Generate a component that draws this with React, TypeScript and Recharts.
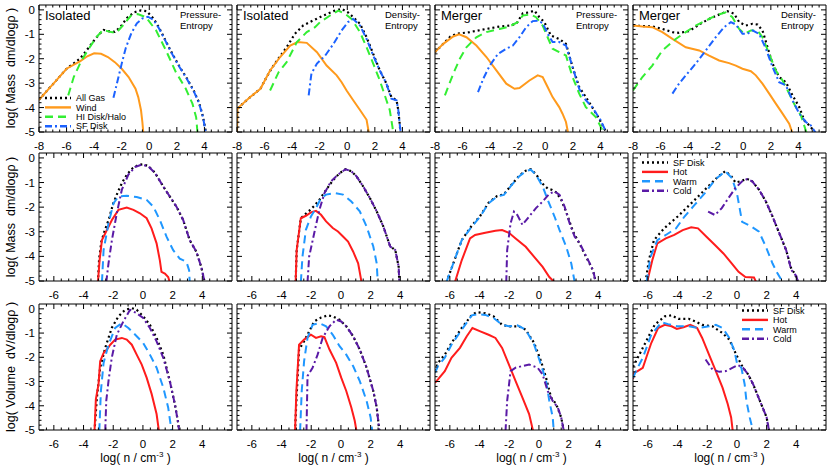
import React from 'react';
import { LineChart, Line, XAxis, YAxis } from 'recharts';

type Pt = [number, number];

// ---------- tick labels ----------
const xLabelsTop = [-8, -6, -4, -2, 0, 2, 4];
const xLabelsLow = [-6, -4, -2, 0, 2, 4];
const yLabels = [0, -1, -2, -3, -4, -5];
const colNames = ['Isolated', 'Isolated', 'Merger', 'Merger'];
const colModels = [['Pressure-', 'Entropy'], ['Density-', 'Entropy'], ['Pressure-', 'Entropy'], ['Density-', 'Entropy']];
const legendTop = ['All Gas', 'Wind', 'HI Disk/Halo', 'SF Disk'];
const legendPhase = ['SF Disk', 'Hot', 'Warm', 'Cold'];

// ---------- Row 1: all gas / wind / HI / SF disk ----------
const isoPE_all: Pt[] = [[-8,-3.68],[-7,-3.05],[-6,-2.41],[-5.5,-2.2],[-5,-1.98],[-4.5,-1.62],[-4,-1.25],[-3.6,-0.98],[-3.3,-0.82],[-2.9,-0.88],[-2.5,-0.9],[-2.1,-0.7],[-1.6,-0.32],[-1.1,-0.1],[-0.6,-0.02],[-0.2,-0.05],[0.3,-0.35],[0.7,-0.72],[1.2,-1.28],[1.7,-1.83],[2.2,-2.33],[2.7,-2.78],[3.2,-3.28],[3.6,-3.78],[3.9,-4.38],[4.12,-5.05]];
const isoPE_wind: Pt[] = [[-8,-3.68],[-7,-3.05],[-6,-2.41],[-5.5,-2.25],[-5,-2.1],[-4.5,-1.9],[-4,-1.78],[-3.5,-1.8],[-3,-1.93],[-2.5,-2.14],[-2,-2.41],[-1.5,-2.75],[-1,-3.23],[-0.8,-3.57],[-0.6,-4.11],[-0.5,-4.6],[-0.43,-5.05]];
const isoPE_hi: Pt[] = [[-5.88,-3.5],[-5.48,-2.75],[-4.92,-2.07],[-4.32,-1.53],[-3.84,-1.12],[-3.36,-0.82],[-2.76,-0.91],[-2.4,-0.94],[-1.92,-0.64],[-1.32,-0.23],[-0.84,-0.17],[-0.24,-0.3],[0.49,-0.84],[1.21,-1.66],[1.93,-2.55],[2.65,-3.23],[3.13,-3.84],[3.4,-4.4],[3.5,-5.05]];
const isoPE_sf: Pt[] = [[-2.6,-3.6],[-2.3,-2.9],[-2.0,-2.2],[-1.7,-1.55],[-1.3,-0.95],[-0.9,-0.55],[-0.5,-0.35],[-0.1,-0.28],[0.3,-0.4],[0.7,-0.75],[1.2,-1.3],[1.7,-1.85],[2.2,-2.35],[2.7,-2.8],[3.2,-3.3],[3.6,-3.8],[3.9,-4.4],[4.1,-5.05]];

const isoDE_all: Pt[] = [[-8,-5.05],[-7.97,-4.05],[-7.8,-3.95],[-7.04,-3.57],[-6.3,-3.23],[-5.9,-2.8],[-5.5,-2.4],[-5,-2.0],[-4.4,-1.53],[-3.8,-0.98],[-3.2,-0.64],[-2.5,-0.44],[-1.73,-0.23],[-1.0,-0.05],[-0.41,0.04],[0.05,-0.1],[0.43,-0.3],[0.92,-0.57],[1.4,-1.12],[1.88,-1.8],[2.36,-2.48],[2.84,-3.02],[3.2,-3.57],[3.57,-3.7],[3.7,-4.1],[3.8,-4.66],[3.86,-5.05]];
const isoDE_wind: Pt[] = [[-8,-5.05],[-7.97,-4.05],[-7.8,-3.95],[-7.04,-3.57],[-6.3,-3.23],[-5.6,-2.48],[-4.87,-1.93],[-4.14,-1.46],[-3.6,-1.32],[-2.94,-1.35],[-2.2,-1.73],[-1.5,-2.28],[-0.77,-2.68],[-0.41,-2.96],[-0.05,-3.3],[0.43,-3.7],[0.92,-4.1],[1.4,-4.5],[1.57,-5.05]];
const isoDE_hi: Pt[] = [[-5.6,-3.3],[-4.98,-2.55],[-4.4,-2.14],[-3.66,-1.32],[-2.94,-0.91],[-2.34,-0.71],[-1.97,-0.5],[-1.25,-0.23],[-0.65,-0.03],[-0.17,-0.16],[0.31,-0.37],[0.92,-0.91],[1.4,-1.53],[1.88,-2.2],[2.36,-2.89],[2.84,-3.7],[3.08,-4.1],[3.28,-4.8],[3.33,-5.05]];
const isoDE_sf: Pt[] = [[-2.8,-3.5],[-2.6,-2.6],[-2.2,-2.2],[-1.6,-1.87],[-1.0,-1.39],[-0.41,-0.84],[0.05,-0.5],[0.43,-0.37],[0.92,-0.64],[1.4,-1.19],[1.88,-1.87],[2.36,-2.48],[2.84,-3.02],[3.2,-3.64],[3.57,-3.7],[3.7,-4.1],[3.8,-4.66],[3.88,-5.05]];

const merPE_all: Pt[] = [[-8,-1.73],[-7.4,-1.39],[-6.9,-1.1],[-6.44,-0.98],[-5.48,-0.91],[-4.27,-0.78],[-3.31,-0.68],[-2.6,-0.64],[-2.1,-0.57],[-1.63,-0.14],[-1.15,-0.1],[-0.79,-0.03],[-0.43,-0.3],[-0.07,-0.5],[0.41,-1.05],[1.01,-1.19],[1.5,-1.39],[1.98,-2.34],[2.46,-3.16],[2.94,-3.57],[3.4,-3.98],[3.9,-4.45],[4.45,-5.05]];
const merPE_wind: Pt[] = [[-8,-1.73],[-7.4,-1.39],[-6.68,-1.09],[-6.25,-1.0],[-5.72,-1.12],[-5,-1.46],[-4.27,-1.93],[-3.55,-2.48],[-2.83,-3.02],[-2.23,-3.23],[-1.87,-3.2],[-1.15,-2.89],[-0.55,-2.68],[-0.19,-2.75],[0.17,-3.16],[0.53,-3.57],[1.01,-3.98],[1.25,-4.25],[1.5,-4.59],[1.66,-5.05]];
const merPE_hi: Pt[] = [[-7.28,-3.5],[-6.68,-2.62],[-6.2,-2.0],[-5.72,-1.53],[-5,-1.12],[-4.27,-0.91],[-3.31,-0.78],[-2.6,-0.68],[-2,-0.5],[-1.63,-0.23],[-1.03,-0.19],[-0.67,-0.3],[-0.19,-0.64],[0.17,-1.12],[0.53,-1.59],[1.01,-1.73],[1.5,-1.87],[1.98,-2.75],[2.46,-3.43],[2.94,-3.98],[3.66,-4.39],[4.26,-5.05]];
const merPE_sf: Pt[] = [[-4.88,-3.37],[-4.5,-2.82],[-4.03,-2.28],[-3.43,-1.8],[-2.83,-1.59],[-2.35,-1.46],[-1.87,-1.12],[-1.39,-0.71],[-0.91,-0.46],[-0.55,-0.44],[-0.19,-0.54],[0.17,-0.98],[0.53,-1.32],[1.01,-1.32],[1.5,-1.46],[1.98,-2.34],[2.46,-3.23],[2.94,-3.7],[3.4,-3.98],[4.02,-4.52],[4.45,-5.05]];

const merDE_all: Pt[] = [[-8,-0.64],[-7.32,-0.66],[-6.6,-0.68],[-5.87,-0.78],[-5.14,-0.91],[-4.66,-0.94],[-3.93,-0.87],[-3.2,-0.6],[-2.48,-0.37],[-1.75,-0.19],[-1.15,-0.05],[-0.66,-0.16],[-0.3,-0.5],[0.19,-0.64],[0.67,-0.57],[1.03,-0.6],[1.39,-0.84],[1.76,-1.53],[2.12,-2.2],[2.6,-2.75],[3.09,-2.96],[3.57,-3.5],[4.06,-3.98],[4.42,-4.52],[4.9,-4.8],[5.2,-5.05]];
const merDE_wind: Pt[] = [[-8,-0.64],[-7.32,-0.68],[-6.6,-0.71],[-5.87,-0.91],[-5.14,-1.19],[-4.17,-1.53],[-3.2,-1.66],[-2.48,-1.87],[-1.75,-2.07],[-1.03,-2.18],[-0.54,-2.28],[-0.06,-2.41],[0.55,-2.51],[0.91,-2.68],[1.39,-3.02],[1.88,-3.43],[2.36,-3.84],[2.85,-4.25],[3.33,-4.66],[3.57,-5.05]];
const merDE_hi: Pt[] = [[-8,-3.3],[-7.32,-2.75],[-6.6,-2.28],[-5.87,-1.66],[-4.9,-1.19],[-4.17,-0.91],[-3.45,-0.64],[-2.72,-0.44],[-2,-0.23],[-1.27,-0.1],[-0.79,-0.3],[-0.3,-0.78],[0.07,-0.98],[0.55,-0.84],[1.03,-0.84],[1.39,-1.12],[1.88,-1.8],[2.36,-2.48],[2.85,-2.89],[3.33,-3.43],[3.81,-3.98],[4.18,-4.32],[4.6,-5.05]];
const merDE_sf: Pt[] = [[-5.14,-3.43],[-4.66,-3.02],[-4.17,-2.68],[-3.45,-2.2],[-2.72,-1.66],[-2,-1.12],[-1.39,-0.71],[-0.9,-0.5],[-0.54,-0.6],[-0.06,-0.98],[0.3,-0.98],[0.67,-0.84],[1.15,-0.98],[1.64,-1.59],[2.12,-2.34],[2.6,-2.96],[3.09,-3.09],[3.57,-3.7],[4.06,-4.25],[4.54,-4.59],[4.9,-4.73],[5.27,-5.05]];

// ---------- Row 2: SF disk mass by phase ----------
const massIsoPE_sf: Pt[] = [[-3.03,-5.05],[-2.95,-4.1],[-2.8,-3.4],[-2.6,-3.0],[-2.3,-2.5],[-2.0,-1.85],[-1.7,-1.4],[-1.4,-1.0],[-1.05,-0.65],[-0.7,-0.42],[-0.3,-0.28],[0.0,-0.26],[0.36,-0.33],[0.81,-0.6],[1.37,-1.16],[1.81,-1.57],[2.26,-1.98],[2.71,-2.52],[3.15,-3.34],[3.6,-3.81],[3.93,-4.43],[4.16,-5.05]];
const massIsoPE_hot: Pt[] = [[-3.03,-5.05],[-2.92,-4.16],[-2.76,-3.34],[-2.43,-2.93],[-2.09,-2.52],[-1.65,-2.11],[-1.09,-2.02],[-0.64,-2.11],[-0.2,-2.25],[0.25,-2.45],[0.58,-2.86],[0.92,-3.47],[1.14,-4.16],[1.25,-4.63],[1.48,-4.7],[1.7,-4.84],[1.81,-5.05]];
const massIsoPE_warm: Pt[] = [[-2.76,-5.05],[-2.65,-3.75],[-2.32,-2.66],[-1.98,-1.84],[-1.65,-1.57],[-1.09,-1.54],[-0.42,-1.59],[0.25,-1.7],[0.7,-1.98],[1.14,-2.52],[1.59,-3.2],[2.04,-3.75],[2.48,-4.09],[2.93,-4.22],[3.11,-4.56],[3.15,-5.05]];
const massIsoPE_cold: Pt[] = [[-2.47,-5.05],[-2.32,-4.29],[-2.09,-3.34],[-1.76,-2.25],[-1.42,-1.29],[-0.98,-0.68],[-0.53,-0.37],[-0.08,-0.27],[0.36,-0.34],[0.81,-0.61],[1.37,-1.16],[1.81,-1.57],[2.26,-1.98],[2.71,-2.52],[3.15,-3.34],[3.6,-3.81],[3.93,-4.43],[4.16,-5.05]];

const massIsoDE_sf: Pt[] = [[-3.05,-5.05],[-2.98,-3.74],[-2.7,-2.45],[-2.48,-2.33],[-2.14,-2.15],[-1.8,-1.95],[-1.45,-1.7],[-1.0,-1.3],[-0.55,-0.92],[-0.09,-0.62],[0.3,-0.46],[0.7,-0.54],[1.05,-0.75],[1.5,-1.16],[1.95,-1.63],[2.41,-2.17],[2.86,-2.79],[3.32,-3.6],[3.66,-3.74],[3.89,-4.42],[3.93,-5.05]];
const massIsoDE_hot: Pt[] = [[-3.05,-5.05],[-2.98,-3.74],[-2.7,-2.45],[-2.36,-2.35],[-2.02,-2.21],[-1.68,-2.15],[-1.34,-2.31],[-1.0,-2.58],[-0.55,-2.85],[-0.2,-2.99],[0.14,-3.19],[0.48,-3.4],[0.82,-3.8],[1.16,-4.28],[1.39,-5.05]];
const massIsoDE_warm: Pt[] = [[-2.7,-5.05],[-2.59,-4.01],[-2.36,-2.92],[-2.02,-2.38],[-1.68,-2.04],[-1.34,-1.63],[-1.0,-1.49],[-0.43,-1.43],[0.14,-1.49],[0.7,-1.77],[1.27,-2.17],[1.73,-2.79],[2.18,-3.6],[2.41,-4.28],[2.48,-5.05]];
const massIsoDE_cold: Pt[] = [[-2.25,-5.05],[-2.14,-4.01],[-1.8,-3.06],[-1.45,-2.11],[-1.11,-1.43],[-0.66,-0.95],[-0.2,-0.68],[0.3,-0.46],[0.7,-0.54],[1.05,-0.75],[1.5,-1.16],[1.95,-1.63],[2.41,-2.17],[2.86,-2.79],[3.32,-3.6],[3.66,-3.74],[3.89,-4.42],[3.93,-5.05]];

const massMerPE_sf: Pt[] = [[-6.23,-5.05],[-5.77,-4.29],[-5.2,-3.34],[-4.52,-2.75],[-3.95,-2.35],[-3.39,-1.82],[-2.82,-1.55],[-2.36,-1.48],[-1.91,-1.14],[-1.34,-0.73],[-0.89,-0.52],[-0.55,-0.46],[-0.2,-0.66],[0.25,-1.05],[0.6,-1.25],[0.9,-1.3],[1.16,-1.4],[1.5,-1.7],[1.84,-2.2],[2.3,-3.0],[2.75,-3.5],[3.2,-4.05],[3.55,-4.45],[3.7,-4.7],[3.82,-5.05]];
const massMerPE_hot: Pt[] = [[-5.66,-5.05],[-5.2,-4.16],[-4.64,-3.27],[-4.3,-3.13],[-3.61,-3.04],[-2.93,-2.96],[-2.48,-2.93],[-2.02,-3.04],[-1.57,-3.27],[-0.89,-3.61],[-0.32,-4.02],[0.25,-4.43],[0.7,-4.84],[1.05,-5.05]];
const massMerPE_warm: Pt[] = [[-6.23,-5.05],[-5.77,-4.29],[-5.2,-3.34],[-4.52,-2.79],[-3.95,-2.38],[-3.39,-1.84],[-2.82,-1.57],[-2.36,-1.5],[-1.91,-1.16],[-1.34,-0.75],[-0.89,-0.54],[-0.55,-0.48],[-0.2,-0.68],[0.25,-1.16],[0.59,-1.7],[1.05,-2.38],[1.39,-2.93],[1.84,-3.61],[2.18,-4.29],[2.41,-5.05]];
const massMerPE_cold: Pt[] = [[-2.2,-5.05],[-2.14,-3.75],[-1.91,-2.66],[-1.68,-2.18],[-1.45,-2.32],[-1.11,-2.72],[-0.66,-2.38],[-0.2,-2.04],[0.25,-1.77],[0.7,-1.46],[1.05,-1.36],[1.39,-1.5],[1.73,-1.98],[2.07,-2.66],[2.41,-3.2],[2.75,-3.47],[3.2,-4.02],[3.55,-4.43],[3.7,-4.7],[3.82,-5.05]];

const massMerDE_sf: Pt[] = [[-6.16,-5.05],[-5.93,-4.16],[-5.59,-3.34],[-4.9,-2.86],[-3.99,-2.38],[-3.31,-1.98],[-2.62,-1.57],[-1.94,-1.16],[-1.25,-0.75],[-0.79,-0.54],[-0.4,-0.72],[-0.1,-1.0],[0.23,-0.95],[0.68,-0.85],[1.03,-0.95],[1.49,-1.29],[1.95,-1.77],[2.4,-2.38],[2.86,-3.07],[3.32,-3.75],[3.66,-4.5],[3.9,-4.7],[4.12,-5.05]];
const massMerDE_hot: Pt[] = [[-6.05,-5.05],[-5.7,-4.16],[-5.36,-3.47],[-4.79,-3.27],[-4.22,-3.13],[-3.65,-2.93],[-3.08,-2.82],[-2.62,-2.86],[-2.05,-3.2],[-1.48,-3.54],[-0.91,-3.88],[-0.34,-4.29],[0.11,-4.63],[0.57,-4.84],[1.15,-4.86],[1.3,-5.05]];
const massMerDE_warm: Pt[] = [[-6.09,-5.05],[-5.82,-4.02],[-5.36,-3.34],[-4.79,-3.13],[-4.1,-2.86],[-3.53,-2.38],[-2.85,-1.91],[-2.16,-1.43],[-1.48,-0.89],[-0.79,-0.54],[-0.34,-0.82],[0.0,-1.43],[0.2,-2.1],[0.35,-2.6],[0.92,-2.77],[1.49,-3.0],[1.95,-3.61],[2.4,-4.29],[2.74,-4.7],[3.09,-5.05]];
const massMerDE_cold: Pt[] = [[-1.94,-2.18],[-1.48,-2.32],[-1.02,-2.04],[-0.57,-1.63],[-0.11,-1.23],[0.35,-0.95],[0.68,-0.86],[1.03,-0.95],[1.49,-1.29],[1.95,-1.77],[2.4,-2.38],[2.86,-3.07],[3.32,-3.75],[3.66,-4.55],[4.0,-4.8],[4.12,-5.05]];

// ---------- Row 3: SF disk volume by phase ----------
const volIsoPE_sf: Pt[] = [[-3.26,-5.05],[-3.1,-3.66],[-2.88,-2.43],[-2.54,-1.61],[-2.1,-0.79],[-1.65,-0.31],[-1.2,-0.04],[-0.75,0.03],[-0.42,-0.04],[0.02,-0.31],[0.47,-0.66],[0.92,-1.2],[1.37,-1.89],[1.81,-2.98],[2.15,-3.93],[2.37,-4.69],[2.44,-5.05]];
const volIsoPE_hot: Pt[] = [[-3.26,-5.05],[-3.17,-3.73],[-2.99,-3.11],[-2.88,-2.16],[-2.65,-1.82],[-2.43,-1.68],[-2.2,-1.48],[-1.87,-1.27],[-1.42,-1.2],[-1.09,-1.27],[-0.75,-1.48],[-0.42,-1.89],[-0.08,-2.3],[0.25,-2.84],[0.59,-3.52],[0.92,-4.34],[1.08,-5.05]];
const volIsoPE_warm: Pt[] = [[-2.94,-5.05],[-2.83,-3.39],[-2.65,-2.23],[-2.32,-1.48],[-1.87,-0.79],[-1.42,-0.59],[-0.98,-0.79],[-0.42,-1.13],[0.02,-1.41],[0.47,-1.89],[0.92,-2.43],[1.37,-3.25],[1.7,-4.07],[1.93,-5.05]];
const volIsoPE_cold: Pt[] = [[-2.54,-5.05],[-2.47,-3.8],[-2.32,-2.98],[-2.1,-2.02],[-1.76,-1.07],[-1.32,-0.52],[-0.87,-0.04],[-0.42,-0.18],[0.02,-0.38],[0.47,-0.79],[0.92,-1.34],[1.37,-2.02],[1.81,-2.98],[2.15,-3.93],[2.37,-4.69],[2.44,-5.05]];

const volIsoDE_sf: Pt[] = [[-3.09,-5.05],[-3.0,-3.8],[-2.82,-1.68],[-2.48,-1.34],[-2.14,-0.93],[-1.8,-0.52],[-1.34,-0.36],[-0.89,-0.27],[-0.55,-0.31],[-0.09,-0.45],[0.36,-0.72],[0.82,-1.13],[1.27,-1.68],[1.73,-2.43],[2.18,-3.39],[2.41,-4.07],[2.59,-5.05]];
const volIsoDE_hot: Pt[] = [[-3.09,-5.05],[-3.0,-3.39],[-2.82,-1.48],[-2.48,-1.27],[-2.02,-1.07],[-1.68,-1.2],[-1.34,-1.13],[-1.11,-1.17],[-0.77,-1.68],[-0.32,-2.23],[0.02,-2.84],[0.36,-3.39],[0.7,-4.07],[0.93,-4.62],[1.05,-5.05]];
const volIsoDE_warm: Pt[] = [[-2.75,-5.05],[-2.64,-3.39],[-2.48,-2.16],[-2.25,-1.2],[-1.91,-0.66],[-1.45,-0.59],[-1.0,-0.72],[-0.55,-1.07],[-0.09,-1.54],[0.36,-1.89],[0.82,-2.36],[1.27,-2.98],[1.73,-3.8],[2.0,-4.48],[2.11,-5.05]];
const volIsoDE_cold: Pt[] = [[-2.32,-5.05],[-2.25,-2.77],[-1.91,-2.43],[-1.57,-1.89],[-1.23,-1.2],[-0.77,-0.72],[-0.32,-0.45],[0.02,-0.52],[0.36,-0.72],[0.82,-1.13],[1.27,-1.68],[1.73,-2.43],[2.18,-3.39],[2.41,-4.07],[2.59,-5.05]];

const volMerPE_sf: Pt[] = [[-7,-2.57],[-6.8,-2.23],[-6.34,-1.89],[-5.89,-1.41],[-5.2,-0.79],[-4.52,-0.25],[-4.18,-0.14],[-3.61,-0.18],[-3.05,-0.31],[-2.48,-0.66],[-2.02,-0.72],[-1.34,-0.72],[-0.89,-0.86],[-0.32,-1.41],[0.14,-2.16],[0.48,-2.84],[0.82,-3.66],[1.16,-3.93],[1.5,-4.48],[1.68,-5.05]];
const volMerPE_hot: Pt[] = [[-7,-3.05],[-6.8,-2.91],[-6.34,-2.57],[-5.89,-2.02],[-5.32,-1.61],[-4.86,-1.13],[-4.48,-0.79],[-3.95,-0.93],[-3.39,-1.07],[-2.93,-1.2],[-2.48,-1.61],[-2.02,-2.3],[-1.57,-2.98],[-1.11,-3.66],[-0.66,-4.34],[-0.39,-5.05]];
const volMerPE_warm: Pt[] = [[-7,-2.64],[-6.8,-2.36],[-6.34,-2.02],[-5.89,-1.48],[-5.2,-0.86],[-4.52,-0.27],[-4.07,-0.22],[-3.61,-0.25],[-3.05,-0.38],[-2.48,-0.66],[-2.02,-0.72],[-1.45,-0.68],[-0.89,-0.86],[-0.32,-1.48],[0.14,-2.3],[0.48,-2.98],[0.7,-3.8],[0.93,-4.48],[1.0,-5.05]];
const volMerPE_cold: Pt[] = [[-2.25,-5.05],[-2.14,-3.8],[-1.91,-2.57],[-1.57,-2.43],[-1.11,-2.36],[-0.66,-2.3],[-0.09,-2.43],[0.25,-2.71],[0.59,-3.39],[0.93,-3.8],[1.27,-4.07],[1.5,-4.48],[1.68,-5.05]];

const volMerDE_sf: Pt[] = [[-7,-2.4],[-6.8,-2.16],[-6.34,-1.61],[-6.0,-1.2],[-5.54,-0.66],[-4.86,-0.31],[-4.4,-0.27],[-3.94,-0.41],[-3.25,-0.41],[-2.8,-0.52],[-2.34,-0.66],[-1.65,-0.72],[-0.97,-1.0],[-0.51,-1.27],[-0.05,-1.89],[0.41,-2.43],[0.75,-2.7],[1.09,-3.11],[1.55,-3.8],[2.0,-4.48],[2.17,-5.05]];
const volMerDE_hot: Pt[] = [[-7,-2.9],[-6.92,-2.64],[-6.69,-2.57],[-6.34,-2.43],[-6.11,-2.02],[-5.77,-1.41],[-5.31,-0.79],[-4.86,-0.66],[-4.4,-0.72],[-4.05,-0.83],[-3.6,-0.76],[-3.14,-0.66],[-2.68,-0.79],[-2.34,-1.2],[-1.88,-1.89],[-1.42,-2.57],[-0.97,-3.25],[-0.62,-3.93],[-0.39,-4.48],[-0.28,-5.05]];
const volMerDE_warm: Pt[] = [[-7,-2.85],[-6.8,-2.57],[-6.34,-2.02],[-5.77,-1.07],[-5.08,-0.55],[-4.63,-0.63],[-4.05,-0.72],[-3.25,-0.72],[-2.57,-0.79],[-1.88,-0.72],[-1.42,-0.66],[-0.97,-0.79],[-0.51,-1.2],[-0.16,-1.75],[0.0,-2.23],[0.3,-2.43],[0.52,-3.11],[0.64,-3.8],[0.86,-4.48],[1.09,-5.05]];
const volMerDE_cold: Pt[] = [[-2.11,-2.09],[-1.65,-2.5],[-1.19,-2.6],[-0.74,-2.57],[-0.28,-2.43],[0.07,-2.32],[0.41,-2.43],[0.75,-2.7],[1.09,-3.11],[1.55,-3.8],[2.0,-4.48],[2.17,-5.05]];

// ---------- styles ----------
const FONT = '"Liberation Sans", Arial, Helvetica, sans-serif';
const STY: Record<string, any> = {
  all: { stroke: '#000000', strokeDasharray: '2 3', strokeWidth: 2.2 },
  wind: { stroke: '#ff9a1c', strokeWidth: 2 },
  hi: { stroke: '#33ee33', strokeDasharray: '8 5', strokeWidth: 2 },
  sf: { stroke: '#1c62ff', strokeDasharray: '7 3 2 3', strokeWidth: 2 },
  hot: { stroke: '#ff1c1c', strokeWidth: 2 },
  warm: { stroke: '#1f97ff', strokeDasharray: '8 5', strokeWidth: 2 },
  cold: { stroke: '#5a1aa6', strokeDasharray: '7 3 2 3', strokeWidth: 2 },
};

const rangeTicks = (a: number, b: number, s: number) => {
  const r: number[] = [];
  for (let v = a; v <= b + 1e-9; v += s) r.push(Math.round(v * 100) / 100);
  return r;
};
const xTicksTop = rangeTicks(-8, 5.5, 0.5);
const xTicksLow = rangeTicks(-6.5, 5.5, 0.5);
const yTicks = rangeTicks(-5, 0, 0.2);

const COLS = [39, 237, 435, 633];
const PW = 193;
const ROWS = [
  { top: 5, h: 127, xDomain: [-8, 6], xTicks: xTicksTop, xLabels: xLabelsTop },
  { top: 153, h: 128, xDomain: [-7, 6], xTicks: xTicksLow, xLabels: xLabelsLow },
  { top: 304, h: 126, xDomain: [-7, 6], xTicks: xTicksLow, xLabels: xLabelsLow },
];

const PANELS: { key: string; d: Pt[] }[][][] = [
  [
    [{ key: 'all', d: isoPE_all }, { key: 'wind', d: isoPE_wind }, { key: 'hi', d: isoPE_hi }, { key: 'sf', d: isoPE_sf }],
    [{ key: 'all', d: isoDE_all }, { key: 'wind', d: isoDE_wind }, { key: 'hi', d: isoDE_hi }, { key: 'sf', d: isoDE_sf }],
    [{ key: 'all', d: merPE_all }, { key: 'wind', d: merPE_wind }, { key: 'hi', d: merPE_hi }, { key: 'sf', d: merPE_sf }],
    [{ key: 'all', d: merDE_all }, { key: 'wind', d: merDE_wind }, { key: 'hi', d: merDE_hi }, { key: 'sf', d: merDE_sf }],
  ],
  [
    [{ key: 'all', d: massIsoPE_sf }, { key: 'hot', d: massIsoPE_hot }, { key: 'warm', d: massIsoPE_warm }, { key: 'cold', d: massIsoPE_cold }],
    [{ key: 'all', d: massIsoDE_sf }, { key: 'hot', d: massIsoDE_hot }, { key: 'warm', d: massIsoDE_warm }, { key: 'cold', d: massIsoDE_cold }],
    [{ key: 'all', d: massMerPE_sf }, { key: 'hot', d: massMerPE_hot }, { key: 'warm', d: massMerPE_warm }, { key: 'cold', d: massMerPE_cold }],
    [{ key: 'all', d: massMerDE_sf }, { key: 'hot', d: massMerDE_hot }, { key: 'warm', d: massMerDE_warm }, { key: 'cold', d: massMerDE_cold }],
  ],
  [
    [{ key: 'all', d: volIsoPE_sf }, { key: 'hot', d: volIsoPE_hot }, { key: 'warm', d: volIsoPE_warm }, { key: 'cold', d: volIsoPE_cold }],
    [{ key: 'all', d: volIsoDE_sf }, { key: 'hot', d: volIsoDE_hot }, { key: 'warm', d: volIsoDE_warm }, { key: 'cold', d: volIsoDE_cold }],
    [{ key: 'all', d: volMerPE_sf }, { key: 'hot', d: volMerPE_hot }, { key: 'warm', d: volMerPE_warm }, { key: 'cold', d: volMerPE_cold }],
    [{ key: 'all', d: volMerDE_sf }, { key: 'hot', d: volMerDE_hot }, { key: 'warm', d: volMerDE_warm }, { key: 'cold', d: volMerDE_cold }],
  ],
];

const toData = (a: Pt[]) => a.map(([x, y]) => ({ x, y }));
const isMajX = (v: number) => Math.abs(v % 2) < 1e-6;
const isMajY = (v: number) => Math.abs(v - Math.round(v)) < 1e-6;

const MAJ = 5;
const MIN = 2.5;

const BottomTick = (p: any) => {
  const v = p.payload.value;
  const maj = isMajX(v);
  return (
    <g>
      <line x1={p.x} x2={p.x} y1={p.y} y2={p.y - (maj ? MAJ : MIN)} stroke="#000" strokeWidth={1} />
      {p.labels.includes(v) ? (
        <text x={p.x} y={p.y + 18} textAnchor="middle" fontSize={11.5} fontFamily={FONT} fill="#000">
          {String(v)}
        </text>
      ) : null}
    </g>
  );
};
const TopTick = (p: any) => {
  const v = p.payload.value;
  const maj = isMajX(v);
  return <line x1={p.x} x2={p.x} y1={p.y} y2={p.y + (maj ? MAJ : MIN)} stroke="#000" strokeWidth={1} />;
};
const LeftTick = (p: any) => {
  const v = p.payload.value;
  const maj = isMajY(v);
  return (
    <g>
      <line x1={p.x} x2={p.x + (maj ? MAJ : MIN)} y1={p.y} y2={p.y} stroke="#000" strokeWidth={1} />
      {p.show && maj ? (
        <text x={p.x - 4} y={p.y + 4} textAnchor="end" fontSize={11.5} fontFamily={FONT} fill="#000">
          {String(Math.round(v))}
        </text>
      ) : null}
    </g>
  );
};
const RightTick = (p: any) => {
  const v = p.payload.value;
  const maj = isMajY(v);
  return <line x1={p.x} x2={p.x - (maj ? MAJ : MIN)} y1={p.y} y2={p.y} stroke="#000" strokeWidth={1} />;
};

// outer spacing around each plot box (axis boxes are 1px each)
const ML = 40, MT = 8, MR = 8, MB = 26;

function Panel({ r, c }: { r: number; c: number }) {
  const row = ROWS[r];
  const left = COLS[c];
  const W = PW + ML + MR;
  const H = row.h + MT + MB;
  const series = PANELS[r][c];
  const axisLine = { stroke: '#000', strokeWidth: 1 };
  return (
    <div style={{ position: 'absolute', left: left - ML, top: row.top - MT, width: W, height: H }}>
      <LineChart width={W} height={H} margin={{ left: ML - 1, top: MT - 1, right: MR - 1, bottom: MB - 1 }}>
        <XAxis xAxisId="b" type="number" dataKey="x" domain={row.xDomain} ticks={row.xTicks} interval={0}
          allowDataOverflow height={1} tickSize={0} tickMargin={0} tickLine={false} axisLine={axisLine}
          tick={(p: any) => <BottomTick {...p} labels={row.xLabels} />} />
        <XAxis xAxisId="t" orientation="top" type="number" dataKey="x" domain={row.xDomain} ticks={row.xTicks} interval={0}
          allowDataOverflow height={1} tickSize={0} tickMargin={0} tickLine={false} axisLine={axisLine}
          tick={(p: any) => <TopTick {...p} />} />
        <YAxis yAxisId="l" type="number" domain={[-5, 0.2]} ticks={yTicks} interval={0}
          allowDataOverflow width={1} tickSize={0} tickMargin={0} tickLine={false} axisLine={axisLine}
          tick={(p: any) => <LeftTick {...p} show={c === 0} />} />
        <YAxis yAxisId="r" orientation="right" type="number" domain={[-5, 0.2]} ticks={yTicks} interval={0}
          allowDataOverflow width={1} tickSize={0} tickMargin={0} tickLine={false} axisLine={axisLine}
          tick={(p: any) => <RightTick {...p} />} />
        {series.map((s) => (
          <Line key={s.key} xAxisId="b" yAxisId="l" data={toData(s.d)} dataKey="y" type="linear"
            dot={false} activeDot={false} isAnimationActive={false} strokeLinecap="butt"
            {...STY[s.key]} />
        ))}
      </LineChart>
    </div>
  );
}

const LegendBlock = ({ x, ys, names, keys }: { x: number; ys: number[]; names: string[]; keys: string[] }) => (
  <g>
    {names.map((n, i) => (
      <g key={n}>
        <line x1={x} x2={x + 26} y1={ys[i]} y2={ys[i]} {...STY[keys[i]]} strokeWidth={2.4} />
        <text x={x + 31} y={ys[i] + 3.2} fontSize={9} fontFamily={FONT} fill="#000">{n}</text>
      </g>
    ))}
  </g>
);

export default function App() {
  return (
    <div style={{ position: 'absolute', left: 0, top: 0, width: 830, height: 468, background: '#fff', overflow: 'hidden' }}>
      {ROWS.map((_, r) => COLS.map((__, c) => <Panel key={`${r}-${c}`} r={r} c={c} />))}
      <svg width={830} height={468} style={{ position: 'absolute', left: 0, top: 0, pointerEvents: 'none' }}>
        {COLS.map((cl, c) => (
          <g key={c}>
            <text x={cl + 6} y={20} fontSize={13} fontFamily={FONT}>{colNames[c]}</text>
            <text x={cl + (c % 2 === 0 ? 141 : 148)} y={18} fontSize={9.5} fontFamily={FONT}>{colModels[c][0]}</text>
            <text x={cl + (c % 2 === 0 ? 141 : 148)} y={29} fontSize={9.5} fontFamily={FONT}>{colModels[c][1]}</text>
            <text x={cl + PW / 2} y={462} fontSize={12} fontFamily={FONT} textAnchor="middle">
              log( n / cm<tspan dy={-5} fontSize={8}>-3</tspan><tspan dy={5}> )</tspan>
            </text>
          </g>
        ))}
        <text transform="translate(11,68) rotate(-90)" textAnchor="middle" dominantBaseline="central" fontSize={12.5} fontFamily={FONT} style={{ whiteSpace: 'pre' }}>log( Mass  dm/dlogρ )</text>
        <text transform="translate(11,217) rotate(-90)" textAnchor="middle" dominantBaseline="central" fontSize={12.5} fontFamily={FONT} style={{ whiteSpace: 'pre' }}>log( Mass  dm/dlogρ )</text>
        <text transform="translate(11,367) rotate(-90)" textAnchor="middle" dominantBaseline="central" fontSize={12.5} fontFamily={FONT} style={{ whiteSpace: 'pre' }}>log( Volume  dV/dlogρ )</text>
        <LegendBlock x={45} ys={[98, 107.4, 116.8, 126.2]} names={legendTop} keys={['all', 'wind', 'hi', 'sf']} />
        <LegendBlock x={642} ys={[162.5, 171.9, 181.3, 190.7]} names={legendPhase} keys={['all', 'hot', 'warm', 'cold']} />
        <LegendBlock x={742} ys={[310.5, 319.9, 329.3, 338.7]} names={legendPhase} keys={['all', 'hot', 'warm', 'cold']} />
      </svg>
    </div>
  );
}
